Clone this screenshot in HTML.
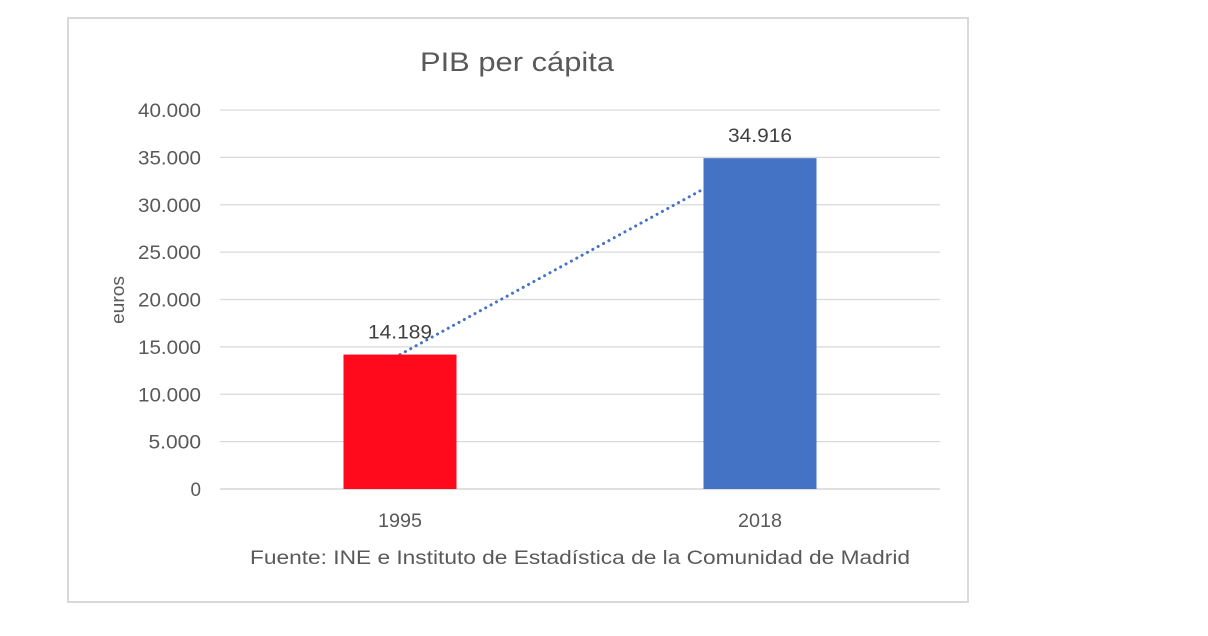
<!DOCTYPE html>
<html><head><meta charset="utf-8">
<style>
html,body{margin:0;padding:0;background:#fff;}
svg{display:block;font-family:"Liberation Sans",sans-serif;}
</style></head>
<body>
<svg id="chart" width="1208" height="636" viewBox="0 0 1208 636">
  <rect x="68" y="18" width="900" height="584" fill="#fff" stroke="#d9d9d9" stroke-width="2"/>
  <text x="517" y="71" text-anchor="middle" font-size="27" fill="#595959" textLength="194" lengthAdjust="spacingAndGlyphs">PIB per cápita</text>
  <text transform="translate(124,300) rotate(-90)" text-anchor="middle" font-size="18" fill="#595959" textLength="48" lengthAdjust="spacingAndGlyphs">euros</text>
  <text x="580" y="564" text-anchor="middle" font-size="19" fill="#595959" textLength="660" lengthAdjust="spacingAndGlyphs">Fuente: INE e Instituto de Estadística de la Comunidad de Madrid</text>
  <g id="grid"></g>
  <g id="trend"></g>
  <g id="bars"></g>
  <g id="labels"></g>
</svg>
<script>
const categories = ["1995", "2018"];
const values = [14189, 34916];
const yTicks = [0, 5000, 10000, 15000, 20000, 25000, 30000, 35000, 40000];
const yTickLabels = ["0", "5.000", "10.000", "15.000", "20.000", "25.000", "30.000", "35.000", "40.000"];
const valueLabels = ["14.189", "34.916"];
const barColors = ["#ff0a1d", "#4472c4"];

const NS = "http://www.w3.org/2000/svg";
const plotL = 220, plotR = 940, y0 = 489, yTop = 110, yMax = 40000;
const band = (plotR - plotL) / categories.length;
const barW = 113;
function y(v){ return y0 - (v / yMax) * (y0 - yTop); }
function x(i){ return plotL + band * (i + 0.5); }
function mk(tag, attrs, parent){ const e = document.createElementNS(NS, tag); for (const k in attrs) e.setAttribute(k, attrs[k]); parent.appendChild(e); return e; }

const grid = document.getElementById('grid');
const labels = document.getElementById('labels');
yTicks.forEach((t, i) => {
  const ln = mk('line', {x1: plotL, x2: plotR, y1: y(t), y2: y(t), stroke: '#d9d9d9', 'stroke-width': 1.3}, grid);
  
  
  const s = yTickLabels[i];
  const tx = mk('text', {x: 201, y: y(t) + 7, 'text-anchor': 'end', 'font-size': 19, fill: '#595959', textLength: s.length * 10.5, lengthAdjust: 'spacingAndGlyphs'}, labels);
  tx.textContent = s;
  
  
});

// linear trendline through the points, ending where it meets the last bar
const trend = document.getElementById('trend');
const n = values.length - 1;
const xa = x(0), ya = y(values[0]), xb = x(n), yb = y(values[n]);
const xe = xb - barW / 2 - 2;
const ye = ya + (yb - ya) * (xe - xa) / (xb - xa);
const tl = mk('line', {x1: xa, y1: ya, x2: xe, y2: ye, stroke: '#4472c4', 'stroke-width': 3, 'stroke-dasharray': '0.1 6', 'stroke-linecap': 'round'}, trend);



const bars = document.getElementById('bars');
categories.forEach((c, i) => {
  const r = mk('rect', {x: x(i) - barW / 2, y: y(values[i]), width: barW, height: y0 - y(values[i]), fill: barColors[i]}, bars);
  
  
  const vl = mk('text', {x: x(i), y: y(values[i]) - 16, 'text-anchor': 'middle', 'font-size': 19, fill: '#404040', textLength: 64, lengthAdjust: 'spacingAndGlyphs'}, labels);
  vl.textContent = valueLabels[i];
  
  
  const cl = mk('text', {x: x(i), y: 527, 'text-anchor': 'middle', 'font-size': 19, fill: '#595959', textLength: 44, lengthAdjust: 'spacingAndGlyphs'}, labels);
  cl.textContent = c;
  
  
});
const ax = mk('line', {x1: plotL, x2: plotR, y1: y0, y2: y0, stroke: '#d9d9d9', 'stroke-width': 1.5}, grid);


</script>
</body></html>
